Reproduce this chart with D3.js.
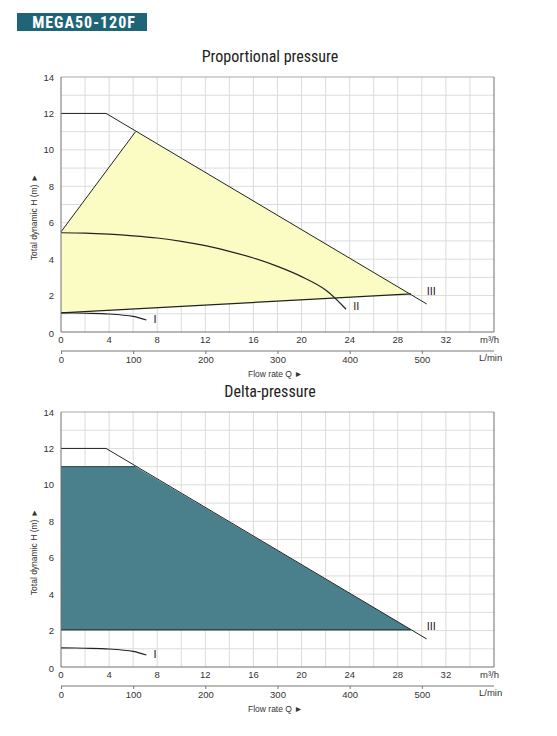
<!DOCTYPE html>
<html>
<head>
<meta charset="utf-8">
<script src="https://cdn.jsdelivr.net/npm/d3@7"></script>
<style>
  body { margin: 0; background: #fff; }
  svg { display: block; font-family: "Liberation Sans", Arial, sans-serif; }
  .narrow { font-family: "Liberation Sans Narrow", "Roboto Condensed", "Liberation Sans", sans-serif; }
</style>
</head>
<body>
<div class="chart"></div>
<script>
// axis ticks
const flowTicks = [0, 4, 8, 12, 16, 20, 24, 28, 32];
const litreTicks = [0, 100, 200, 300, 400, 500];
const headTicks = [0, 2, 4, 6, 8, 10, 12, 14];

// curves, [m3/h, m]
const maxCurve = [[0, 12], [3.75, 12], [30.4, 1.54]];
const curveI = [[0, 1.05], [2, 1.03], [4, 0.99], [6, 0.86], [7.1, 0.66]];
const curveII = [[0, 5.45], [2, 5.43], [4, 5.37], [6, 5.28], [8, 5.16], [10, 4.98], [12, 4.74],
  [14, 4.43], [16, 4.06], [18, 3.6], [20, 3.04], [22, 2.31], [23.7, 1.25]];

// operating areas
const propArea = [[0, 5.5], [6.2, 11], [29.1, 2.09], [0, 1.05]];
const deltaArea = [[0, 11], [6.2, 11], [29.1, 2.05], [0, 2.05]];

const curveLabels = [
  { name: 'I', q: 7.7, h: 0.5 },
  { name: 'II', q: 24.3, h: 1.2 },
  { name: 'III', q: 30.4, h: 2.05 }
];

const width = 557, height = 736;
const svg = d3.select('div.chart').append('svg')
  .attr('width', width)
  .attr('height', height);

// header tag
svg.append('rect')
  .attr('x', 17).attr('y', 13)
  .attr('width', 130).attr('height', 18)
  .style('fill', '#1f6577');
svg.append('text')
  .attr('class', 'narrow')
  .attr('x', 84).attr('y', 28)
  .attr('text-anchor', 'middle')
  .attr('font-size', 16)
  .attr('font-weight', 'bold')
  .style('fill', '#fff')
  .style('letter-spacing', '1px')
  .text('MEGA50-120F');

function drawChart(top, title, mode) {
  const left = 61, right = 494;
  const plotTop = top, plotBottom = top + 255;

  const x = d3.scaleLinear().domain([0, 36]).range([left, right]);
  const y = d3.scaleLinear().domain([0, 14]).range([plotBottom, plotTop]);
  // 1 m3/h = 1000/60 L/min
  const xl = d3.scaleLinear().domain([0, 36 * 1000 / 60]).range([left, right]);

  const g = svg.append('g');

  g.append('text')
    .attr('class', 'narrow')
    .attr('x', 270).attr('y', plotTop - 15)
    .attr('text-anchor', 'middle')
    .attr('font-size', 16)
    .style('fill', '#222')
    .text(title);

  // grid
  g.selectAll('line.vgrid')
    .data(d3.range(2, 36, 2))
    .enter().append('line')
    .attr('class', 'vgrid')
    .attr('x1', d => x(d)).attr('x2', d => x(d))
    .attr('y1', plotTop).attr('y2', plotBottom)
    .style('stroke', '#dcdcdc').style('stroke-width', 1);
  g.selectAll('line.hgrid')
    .data(d3.range(1, 14, 1))
    .enter().append('line')
    .attr('class', 'hgrid')
    .attr('x1', left).attr('x2', right)
    .attr('y1', d => y(d)).attr('y2', d => y(d))
    .style('stroke', '#dcdcdc').style('stroke-width', 1);

  const line = d3.line().x(d => x(d[0])).y(d => y(d[1]));
  const smooth = d3.line().x(d => x(d[0])).y(d => y(d[1])).curve(d3.curveCatmullRom);

  if (mode === 'prop') {
    g.append('path')
      .attr('d', line(propArea) + 'Z')
      .style('fill', '#fbfbc4')
      .style('stroke', 'none');
    g.append('path')
      .attr('d', line([propArea[0], propArea[1]]))
      .style('fill', 'none').style('stroke', '#222').style('stroke-width', 1);
    g.append('path')
      .attr('d', line([propArea[3], propArea[2]]))
      .style('fill', 'none').style('stroke', '#222').style('stroke-width', 1.2);
    g.append('path')
      .attr('d', smooth(curveII))
      .style('fill', 'none').style('stroke', '#222').style('stroke-width', 1.2);
  } else {
    g.append('path')
      .attr('d', line(deltaArea) + 'Z')
      .style('fill', '#4a7f8c')
      .style('stroke', 'none');
    g.append('path')
      .attr('d', line([deltaArea[0], deltaArea[1]]))
      .style('fill', 'none').style('stroke', '#35575f').style('stroke-width', 1.2);
    g.append('path')
      .attr('d', line([deltaArea[3], deltaArea[2]]))
      .style('fill', 'none').style('stroke', '#2f4b52').style('stroke-width', 1.5);
  }

  g.append('path')
    .attr('d', line(maxCurve))
    .style('fill', 'none').style('stroke', '#222').style('stroke-width', 1);
  g.append('path')
    .attr('d', smooth(curveI))
    .style('fill', 'none').style('stroke', '#222').style('stroke-width', 1.1);

  // curve names
  g.selectAll('text.curve')
    .data(mode === 'prop' ? curveLabels : curveLabels.filter(d => d.name !== 'II'))
    .enter().append('text')
    .attr('class', 'curve')
    .attr('x', d => x(d.q))
    .attr('y', d => y(d.h))
    .attr('font-size', 11)
    .style('fill', '#222')
    .text(d => d.name);

  // frame
  g.append('line')
    .attr('x1', left).attr('x2', right).attr('y1', plotTop).attr('y2', plotTop)
    .style('stroke', '#a8a8a8');
  g.append('line')
    .attr('x1', right).attr('x2', right).attr('y1', plotTop).attr('y2', plotBottom)
    .style('stroke', '#707070');
  g.append('line')
    .attr('x1', left).attr('x2', left).attr('y1', plotTop).attr('y2', plotBottom)
    .style('stroke', '#707070');
  g.append('line')
    .attr('x1', left).attr('x2', right).attr('y1', plotBottom).attr('y2', plotBottom)
    .style('stroke', '#707070');

  // y ticks
  g.selectAll('text.ytick')
    .data(headTicks)
    .enter().append('text')
    .attr('class', 'ytick')
    .attr('x', 54)
    .attr('y', d => y(d) + (d === 0 ? 5 : 3.5))
    .attr('text-anchor', 'end')
    .attr('font-size', 9.5)
    .style('fill', '#333')
    .text(d => d);

  // x ticks m3/h
  g.selectAll('text.xtick')
    .data(flowTicks)
    .enter().append('text')
    .attr('class', 'xtick')
    .attr('x', d => x(d))
    .attr('y', plotBottom + 11)
    .attr('text-anchor', 'middle')
    .attr('font-size', 9.5)
    .style('fill', '#333')
    .text(d => d);
  g.append('text')
    .attr('x', 480).attr('y', plotBottom + 11)
    .attr('font-size', 9.5)
    .style('fill', '#333')
    .text('m³/h');

  // L/min axis
  const litreAxis = d3.axisBottom(xl).tickValues(litreTicks).tickSize(3).tickPadding(2);
  const la = g.append('g')
    .attr('transform', `translate(0,${plotBottom + 19})`)
    .call(litreAxis);
  la.select('.domain').attr('d', `M${left},0H${right}`).style('stroke', '#777');
  la.selectAll('.tick line').style('stroke', '#777');
  la.selectAll('.tick text')
    .attr('font-size', 9.5)
    .attr('font-family', null)
    .style('fill', '#333');
  g.append('text')
    .attr('x', 479).attr('y', plotBottom + 29)
    .attr('font-size', 9.5)
    .style('fill', '#333')
    .text('L/min');

  g.append('text')
    .attr('x', 248).attr('y', plotBottom + 45)
    .attr('font-size', 8.5)
    .style('fill', '#333')
    .text('Flow rate Q ►');

  g.append('text')
    .attr('transform', `translate(37,${plotTop + 140}) rotate(-90)`)
    .attr('text-anchor', 'middle')
    .attr('font-size', 8.5)
    .style('fill', '#333')
    .text('Total dynamic H (m) ►');
}

drawChart(77, 'Proportional pressure', 'prop');
drawChart(412, 'Delta-pressure', 'delta');
</script>
</body>
</html>
